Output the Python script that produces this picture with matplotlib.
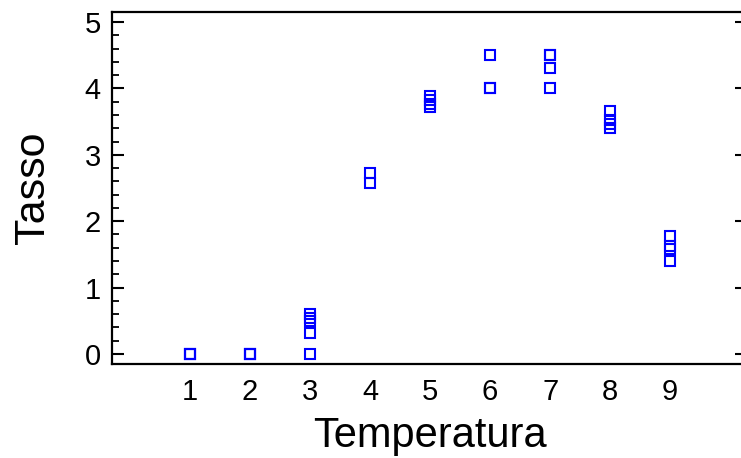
import matplotlib
matplotlib.use("Agg")
import matplotlib.pyplot as plt
from matplotlib.ticker import MultipleLocator

plt.rcParams['font.family'] = ['Liberation Sans', 'DejaVu Sans']

# Observations: temperature level and measured rate
temperatura = [1, 1, 1,
               2, 2, 2,
               3, 3, 3, 3, 3,
               4, 4,
               5, 5, 5, 5,
               6, 6, 6,
               7, 7, 7, 7,
               8, 8, 8, 8,
               9, 9, 9, 9]
tasso = [0.0, 0.0, 0.0,
         0.0, 0.0, 0.0,
         0.0, 0.32, 0.50, 0.55, 0.60,
         2.58, 2.72,
         3.72, 3.77, 3.82, 3.88,
         4.0, 4.0, 4.5,
         4.0, 4.3, 4.5, 4.5,
         3.40, 3.47, 3.52, 3.66,
         1.40, 1.58, 1.63, 1.77]

x_ticks = [1, 2, 3, 4, 5, 6, 7, 8, 9]
y_ticks = [0, 1, 2, 3, 4, 5]

fig = plt.figure(figsize=(7.41, 4.58), dpi=100)
W, H = 741, 458
left, right, top, bottom = 112, 747, 12, 364
ax = fig.add_axes([left / W, 1 - bottom / H, (right - left) / W, (bottom - top) / H])

ax.plot(temperatura, tasso, linestyle='none', marker='s', markersize=6.6,
        markerfacecolor='none', markeredgecolor='#0000ff', markeredgewidth=1.5)

ax.set_xlim(-0.3, 10.28)
ax.set_ylim(-0.15, 5.15)
ax.set_xticks(x_ticks)
ax.set_yticks(y_ticks)
ax.yaxis.set_minor_locator(MultipleLocator(0.2))

for s in ['left', 'top', 'bottom']:
    ax.spines[s].set_linewidth(1.6)
ax.spines['right'].set_visible(False)

ax.tick_params(axis='x', which='both', length=0, labelsize=21, pad=10)
ax.tick_params(axis='y', which='major', direction='in', length=8.5, width=1.5,
               labelsize=21, pad=8, right=True)
ax.tick_params(axis='y', which='minor', direction='in', length=5, width=1.3,
               right=False)

ax.set_xlabel('Temperatura', fontsize=30, labelpad=7)
ax.set_ylabel('Tasso', fontsize=31, labelpad=23)

fig.savefig('out.png', dpi=100)
